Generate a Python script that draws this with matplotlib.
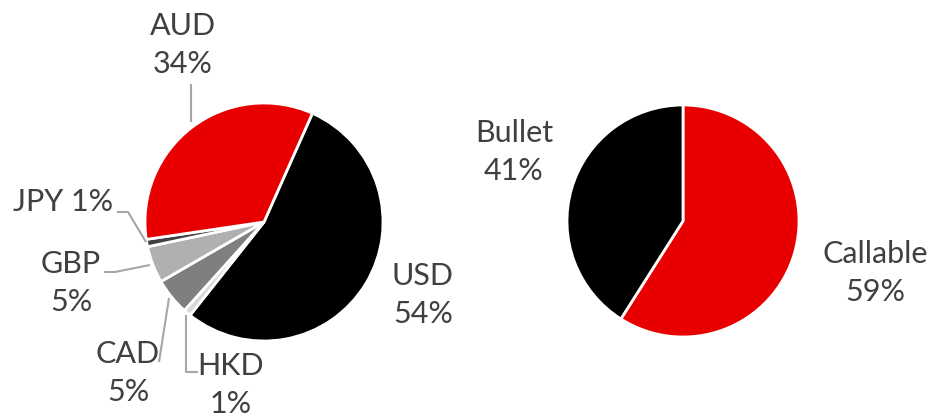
import matplotlib.pyplot as plt

# currency split (left pie), clockwise from the first slice
currencies = ['USD', 'HKD', 'CAD', 'GBP', 'JPY', 'AUD']
currency_pct = [54, 1, 5, 5, 1, 34]
currency_colors = ['#000000', '#d9d9d9', '#7f7f7f', '#b0b0b0', '#404040', '#e80000']

# structure split (right pie)
structures = ['Callable', 'Bullet']
structure_pct = [59, 41]
structure_colors = ['#e80000', '#000000']

plt.rcParams['font.family'] = ['Lato', 'DejaVu Sans']
txt_color = '#404040'
line_color = '#a6a6a6'
H = 415  # figure height in px, axes use pixel units (y flipped below)

fig = plt.figure(figsize=(9.33, 4.15), dpi=100)
ax = fig.add_axes([0, 0, 1, 1])

wedge = dict(edgecolor='white', linewidth=2)
ax.pie(currency_pct, colors=currency_colors, startangle=66, counterclock=False,
       center=(264, H - 222), radius=119, wedgeprops=wedge, frame=True)
ax.pie(structure_pct, colors=structure_colors, startangle=90, counterclock=False,
       center=(683, H - 221), radius=116, wedgeprops=wedge, frame=True)
ax.set_xlim(0, 933)
ax.set_ylim(0, H)
ax.set_aspect('equal')
ax.axis('off')

def label(x, y, s):
    ax.text(x, H - y, s, ha='center', va='center', fontsize=22,
            color=txt_color, linespacing=1.42)

def leader(pts):
    xs = [p[0] for p in pts]
    ys = [H - p[1] for p in pts]
    ax.plot(xs, ys, color=line_color, lw=1.5, solid_capstyle='butt')

pct = dict(zip(currencies, currency_pct))
label(183, 45, 'AUD\n%d%%' % pct['AUD'])
label(63, 202, 'JPY %d%%' % pct['JPY'])
label(71, 283, 'GBP\n%d%%' % pct['GBP'])
label(128, 373, 'CAD\n%d%%' % pct['CAD'])
label(231, 385, 'HKD\n%d%%' % pct['HKD'])
label(423, 295, 'USD\n%d%%' % pct['USD'])
label(514, 152, '%s\n%d%%' % (structures[1], structure_pct[1]))
label(875, 273, '%s\n%d%%' % (structures[0], structure_pct[0]))

leader([(191, 84), (191, 122)])
leader([(117, 212), (128, 212), (146, 242)])
leader([(104, 272), (115, 272), (150, 265)])
leader([(159, 362), (169, 298)])
leader([(198, 372), (186, 372), (186, 315)])

fig.savefig('out.png', dpi=100)
